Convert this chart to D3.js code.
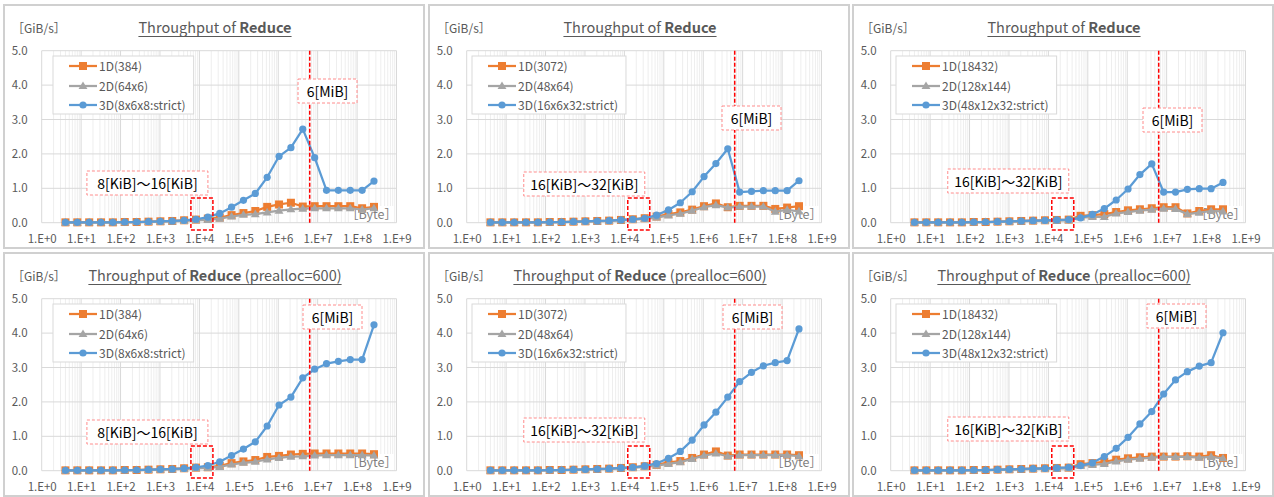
<!DOCTYPE html>
<html>
<head>
<meta charset="utf-8">
<script src="https://cdn.jsdelivr.net/npm/d3@7"></script>
<style>
body { margin: 0; background: #fff; }
text { font-family: "Noto Sans CJK JP", "Noto Sans", sans-serif; }
</style>
</head>
<body>
<div id="chart"></div>
<script>
// message sizes in bytes (x axis)
const sizes = [4, 8, 16, 32, 64, 128, 256, 512, 1024, 2048, 4096, 8192, 16384, 32768,
  65536, 131072, 262144, 524288, 1048576, 2097152, 4194304, 8388608, 16777216,
  33554432, 67108864, 134217728, 268435456];

const xTicks = [1, 1e1, 1e2, 1e3, 1e4, 1e5, 1e6, 1e7, 1e8, 1e9];
const yTicks = [0, 1, 2, 3, 4, 5];

const seriesNames = [
  ["1D(384)", "2D(64x6)", "3D(8x6x8:strict)"],
  ["1D(3072)", "2D(48x64)", "3D(16x6x32:strict)"],
  ["1D(18432)", "2D(128x144)", "3D(48x12x32:strict)"]
];

const titleSuffix = ["", " (prealloc=600)"];
const kibRanges = [[8192, 16384], [16384, 32768], [16384, 32768]];
const kibLabels = ["8[KiB]〜16[KiB]", "16[KiB]〜32[KiB]", "16[KiB]〜32[KiB]"];
const cacheSize = 6 * 1024 * 1024;

// GiB/s, row 0 = plain, row 1 = prealloc=600
const p1_1d = [0.01,0.01,0.01,0.01,0.01,0.02,0.02,0.03,0.04,0.05,0.07,0.09,0.12,0.15,0.22,0.28,0.34,0.46,0.53,0.58,0.47,0.48,0.48,0.48,0.48,0.42,0.46];
const p1_2d = [0.00,0.00,0.01,0.01,0.01,0.01,0.02,0.02,0.03,0.04,0.05,0.07,0.08,0.12,0.18,0.23,0.25,0.30,0.35,0.39,0.41,0.42,0.42,0.42,0.42,0.38,0.42];
const p1_3d = [0.01,0.01,0.01,0.01,0.01,0.02,0.02,0.03,0.04,0.05,0.07,0.10,0.16,0.27,0.45,0.65,0.85,1.32,1.93,2.18,2.72,1.89,0.94,0.94,0.94,0.94,1.21];

const p2_1d = [0.01,0.01,0.01,0.01,0.01,0.02,0.02,0.03,0.04,0.05,0.06,0.08,0.10,0.13,0.18,0.25,0.30,0.38,0.48,0.56,0.45,0.49,0.49,0.49,0.40,0.44,0.48];
const p2_2d = [0.00,0.00,0.01,0.01,0.01,0.01,0.02,0.02,0.03,0.04,0.05,0.07,0.08,0.11,0.15,0.21,0.26,0.35,0.45,0.51,0.44,0.47,0.47,0.47,0.32,0.37,0.33];
const p2_3d = [0.01,0.01,0.01,0.01,0.01,0.02,0.02,0.03,0.04,0.05,0.06,0.08,0.10,0.13,0.22,0.37,0.58,0.90,1.34,1.72,2.15,0.89,0.91,0.93,0.93,0.93,1.22];

const p3_1d = [0.01,0.01,0.01,0.01,0.01,0.02,0.02,0.03,0.04,0.05,0.06,0.07,0.08,0.09,0.20,0.22,0.25,0.31,0.36,0.39,0.42,0.45,0.45,0.27,0.34,0.39,0.39];
const p3_2d = [0.00,0.00,0.01,0.01,0.01,0.01,0.02,0.02,0.03,0.04,0.05,0.05,0.06,0.07,0.15,0.17,0.17,0.27,0.31,0.35,0.38,0.41,0.40,0.25,0.29,0.34,0.33];
const p3_3d = [0.01,0.01,0.01,0.01,0.01,0.02,0.02,0.03,0.04,0.05,0.06,0.07,0.08,0.09,0.14,0.24,0.41,0.66,0.98,1.40,1.71,0.89,0.89,0.97,0.99,0.99,1.17];

const p4_1d = [0.01,0.01,0.01,0.01,0.01,0.02,0.02,0.03,0.04,0.05,0.07,0.09,0.10,0.14,0.22,0.27,0.31,0.40,0.43,0.47,0.49,0.50,0.50,0.50,0.50,0.50,0.48];
const p4_2d = [0.00,0.00,0.01,0.01,0.01,0.01,0.02,0.02,0.03,0.04,0.05,0.07,0.08,0.11,0.18,0.23,0.26,0.33,0.37,0.41,0.42,0.44,0.45,0.45,0.45,0.45,0.44];
const p4_3d = [0.01,0.01,0.01,0.01,0.01,0.02,0.02,0.03,0.04,0.05,0.07,0.10,0.15,0.26,0.44,0.63,0.84,1.30,1.91,2.14,2.70,2.95,3.11,3.18,3.23,3.23,4.24];

const p5_1d = [0.01,0.01,0.01,0.01,0.01,0.02,0.02,0.03,0.04,0.05,0.06,0.08,0.10,0.13,0.17,0.24,0.28,0.37,0.47,0.56,0.44,0.47,0.47,0.47,0.47,0.47,0.45];
const p5_2d = [0.00,0.00,0.01,0.01,0.01,0.01,0.02,0.02,0.03,0.04,0.05,0.07,0.08,0.11,0.15,0.20,0.25,0.34,0.44,0.50,0.42,0.45,0.45,0.45,0.45,0.45,0.42];
const p5_3d = [0.01,0.01,0.01,0.01,0.01,0.02,0.02,0.03,0.04,0.05,0.06,0.08,0.10,0.14,0.21,0.36,0.56,0.89,1.33,1.70,2.14,2.59,2.86,3.05,3.14,3.20,4.12];

const p6_1d = [0.01,0.01,0.01,0.01,0.01,0.02,0.02,0.03,0.04,0.05,0.06,0.07,0.08,0.09,0.19,0.22,0.26,0.32,0.36,0.39,0.41,0.41,0.41,0.42,0.41,0.45,0.37];
const p6_2d = [0.00,0.00,0.01,0.01,0.01,0.01,0.02,0.02,0.03,0.04,0.05,0.05,0.06,0.07,0.14,0.17,0.20,0.27,0.32,0.35,0.38,0.40,0.40,0.40,0.38,0.40,0.36];
const p6_3d = [0.01,0.01,0.01,0.01,0.01,0.02,0.02,0.03,0.04,0.05,0.06,0.07,0.08,0.10,0.15,0.23,0.41,0.65,0.97,1.36,1.72,2.23,2.64,2.88,3.04,3.14,4.01];

const panelData = [
  [p1_1d, p1_2d, p1_3d], [p2_1d, p2_2d, p2_3d], [p3_1d, p3_2d, p3_3d],
  [p4_1d, p4_2d, p4_3d], [p5_1d, p5_2d, p5_3d], [p6_1d, p6_2d, p6_3d]
];

// layout bits
const W = 1274, H = 497;
const colX = [0, 425, 849], rowY = [0, 248];
const pl = 41.7, pr = 396.5, pt = 50.7, pb = 222.7;
const legendX = [53, 47, 47];
// 6[MiB] label box (x, y) per panel
const mibBox = [[298, 79], [297, 106], [294, 108], [303, 57], [298, 57], [298, 56]];
const kibBoxY = [171, 172, 169, 172, 170, 169];

const colors = ["#ED7D31", "#A5A5A5", "#5B9BD5"];
const textCol = "#595959";

const svg = d3.select("#chart").append("svg")
  .attr("width", W).attr("height", H);

const x = d3.scaleLog().domain([1, 1e9]).range([pl, pr]);
const y = d3.scaleLinear().domain([0, 5]).range([pb, pt]);

const minorTicks = [];
for (let e = 0; e < 9; e++)
  for (let m = 2; m <= 9; m++) minorTicks.push(m * Math.pow(10, e));

function marker(g, type, cx, cy, col) {
  if (type == 0) {
    g.append("rect").attr("x", cx - 4).attr("y", cy - 4).attr("width", 8).attr("height", 8)
      .attr("fill", col);
  } else if (type == 1) {
    g.append("path").attr("d", d3.symbol(d3.symbolTriangle, 34)())
      .attr("transform", "translate(" + cx + "," + (cy + 0.5) + ")")
      .attr("fill", col);
  } else {
    g.append("circle").attr("cx", cx).attr("cy", cy).attr("r", 3.6).attr("fill", col);
  }
}

for (let p = 0; p < 6; p++) {
  const col = p % 3, row = Math.floor(p / 3);
  const g = svg.append("g").attr("transform", "translate(" + colX[col] + "," + rowY[row] + ")");

  g.append("rect").attr("x", 4).attr("y", 5).attr("width", 420).attr("height", 243)
    .attr("fill", "#fff").attr("stroke", "#d0d0d0").attr("stroke-width", 2);

  // grid
  g.append("g").selectAll("line").data(minorTicks).join("line")
    .attr("x1", d => x(d)).attr("x2", d => x(d)).attr("y1", pt).attr("y2", pb)
    .attr("stroke", "#eeeeee").attr("stroke-width", 1);
  g.append("g").selectAll("line").data(xTicks).join("line")
    .attr("x1", d => x(d)).attr("x2", d => x(d)).attr("y1", pt).attr("y2", pb)
    .attr("stroke", "#d9d9d9").attr("stroke-width", 1);
  g.append("g").selectAll("line").data(yTicks).join("line")
    .attr("x1", pl).attr("x2", pr).attr("y1", d => y(d)).attr("y2", d => y(d))
    .attr("stroke", "#d9d9d9").attr("stroke-width", 1);

  // axes
  const ya = g.append("g").attr("transform", "translate(" + (pl - 11) + ",0)")
    .call(d3.axisLeft(y).tickValues(yTicks).tickFormat(d3.format(".1f")).tickSize(0));
  ya.select(".domain").remove();
  ya.selectAll("text").attr("fill", textCol).style("font-size", "11.5px")
    .style("font-family", '"Noto Sans CJK JP", sans-serif');

  const xa = g.append("g").attr("transform", "translate(0," + (pb + 9) + ")")
    .call(d3.axisBottom(x).tickValues(xTicks).tickFormat(d => "1.E+" + Math.round(Math.log10(d))).tickSize(0));
  xa.select(".domain").remove();
  xa.selectAll("text").attr("fill", textCol).style("font-size", "11.5px")
    .style("font-family", '"Noto Sans CJK JP", sans-serif');

  // unit labels
  g.append("text").attr("x", 12).attr("y", 33).attr("fill", textCol)
    .style("font-size", "12px").text("［GiB/s］");

  g.append("rect").attr("x", 350).attr("y", 206).attr("width", 44).attr("height", 16).attr("fill", "#fff");
  g.append("text").attr("x", 397).attr("y", 219).attr("text-anchor", "end").attr("fill", "#7f7f7f")
    .style("font-size", "12.5px").text("［Byte］");

  // title
  const t = g.append("text").attr("x", 215).attr("y", 33).attr("text-anchor", "middle")
    .attr("fill", textCol).style("font-size", "14.5px");
  t.append("tspan").text("Throughput of ");
  t.append("tspan").attr("font-weight", "bold").text("Reduce");
  t.append("tspan").text(titleSuffix[row]);
  const tb = t.node().getBBox();
  g.append("line").attr("x1", tb.x).attr("x2", tb.x + tb.width).attr("y1", 36.5).attr("y2", 36.5)
    .attr("stroke", textCol).attr("stroke-width", 1);

  // series
  const data = panelData[p];
  for (let s = 0; s < 3; s++) {
    const line = d3.line().x((d, i) => x(sizes[i])).y(d => y(d));
    g.append("path").datum(data[s]).attr("d", line).attr("fill", "none")
      .attr("stroke", colors[s]).attr("stroke-width", 2.25).attr("stroke-linejoin", "round");
    const mg = g.append("g");
    data[s].forEach((v, i) => marker(mg, s, x(sizes[i]), y(v), colors[s]));
  }

  // 6 MiB line
  g.append("line").attr("x1", x(cacheSize)).attr("x2", x(cacheSize)).attr("y1", pt).attr("y2", pb)
    .attr("stroke", "#ff0000").attr("stroke-width", 1.5).attr("stroke-dasharray", "4,2");

  // KiB region box
  const kr = kibRanges[col];
  const kc = (x(kr[0]) + x(kr[1])) / 2;
  g.append("rect").attr("x", kc - 11).attr("y", 198).attr("width", 22).attr("height", 32)
    .attr("fill", "none").attr("stroke", "#ff0000").attr("stroke-width", 1.5).attr("stroke-dasharray", "4,2");

  // annotation labels
  g.append("rect").attr("x", kc + 6 - 121).attr("y", kibBoxY[p]).attr("width", 121).attr("height", 24)
    .attr("fill", "#fff").attr("stroke", "#ff8c8c").attr("stroke-width", 1).attr("stroke-dasharray", "3,2");
  g.append("text").attr("x", kc + 6 - 60.5).attr("y", kibBoxY[p] + 17.5).attr("text-anchor", "middle")
    .attr("fill", "#000").style("font-size", "14px").text(kibLabels[col]);

  const mb = mibBox[p];
  g.append("rect").attr("x", mb[0]).attr("y", mb[1]).attr("width", 59).attr("height", 24)
    .attr("fill", "#fff").attr("stroke", "#ff8c8c").attr("stroke-width", 1).attr("stroke-dasharray", "3,2");
  g.append("text").attr("x", mb[0] + 29.5).attr("y", mb[1] + 17.5).attr("text-anchor", "middle")
    .attr("fill", "#000").style("font-size", "14px").text("6[MiB]");

  // legend
  const lx = legendX[col];
  const lg = g.append("g");
  const lbox = lg.append("rect").attr("x", lx).attr("y", 56).attr("height", 58)
    .attr("fill", "#fff").attr("stroke", "#d9d9d9").attr("stroke-width", 1);
  let maxW = 0;
  const rowsY = [66, 86, 105];
  for (let s = 0; s < 3; s++) {
    lg.append("line").attr("x1", lx + 16).attr("x2", lx + 44).attr("y1", rowsY[s]).attr("y2", rowsY[s])
      .attr("stroke", colors[s]).attr("stroke-width", 2.25);
    marker(lg, s, lx + 30, rowsY[s], colors[s]);
    const lt = lg.append("text").attr("x", lx + 46).attr("y", rowsY[s] + 4.5)
      .attr("fill", textCol).style("font-size", "12px").text(seriesNames[col][s]);
    maxW = Math.max(maxW, lt.node().getComputedTextLength());
  }
  lbox.attr("width", 46 + maxW + 8);
}
</script>
</body>
</html>
